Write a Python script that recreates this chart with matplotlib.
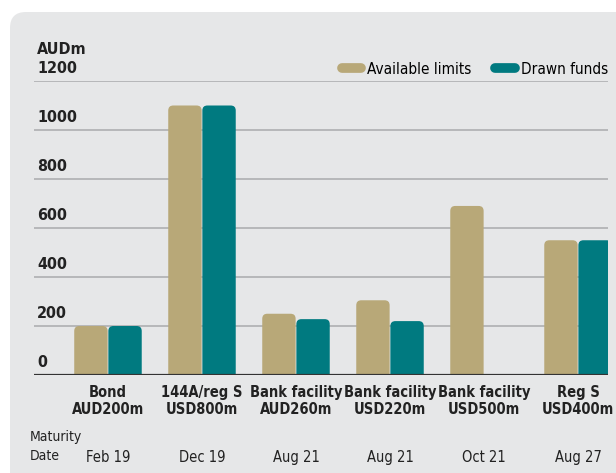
import numpy as np
import matplotlib
matplotlib.use('Agg')
import matplotlib.pyplot as plt
from matplotlib.patches import FancyBboxPatch
from matplotlib.lines import Line2D
from matplotlib import font_manager

names = {f.name for f in font_manager.fontManager.ttflist}
narrow = 'Liberation Sans Narrow' if 'Liberation Sans Narrow' in names else 'DejaVu Sans'
plt.rcParams['font.family'] = [narrow, 'DejaVu Sans']
plt.rcParams['font.stretch'] = 'condensed'

categories = ['Bond\nAUD200m', '144A/reg S\nUSD800m', 'Bank facility\nAUD260m',
              'Bank facility\nUSD220m', 'Bank facility\nUSD500m', 'Reg S\nUSD400m']
maturity = ['Feb 19', 'Dec 19', 'Aug 21', 'Aug 21', 'Oct 21', 'Aug 27']
available = [200, 1100, 250, 305, 690, 550]
drawn = [200, 1100, 228, 220, 0, 550]
yticks = [0, 200, 400, 600, 800, 1000, 1200]

c_avail = '#b8a878'
c_drawn = '#007a80'
panel = '#e6e7e8'

W, H = 616, 473
fig = plt.figure(figsize=(W / 100, H / 100), dpi=100)
fig.patch.set_facecolor('white')

# light grey panel with rounded top-left corner (pixel coords)
fig.patches.append(FancyBboxPatch((10, -30), 700, H - 12 + 30,
                                  boxstyle='round,pad=0,rounding_size=16',
                                  transform=None, facecolor=panel, edgecolor='none',
                                  zorder=-10))

# axes placement in pixels
left, right, bottom, top = 34, 608, 375, 81
ax = fig.add_axes([left / W, 1 - bottom / H, (right - left) / W, (bottom - top) / H])
ax.set_facecolor('none')
ax.set_zorder(5)

x = np.arange(len(categories))
xlim = (-0.787, 5.319)
ax.set_xlim(*xlim)
ax.set_ylim(0, 1200)

px_x = (right - left) / (xlim[1] - xlim[0])
px_y = (bottom - top) / 1200
rad = 5
r_x = rad / px_x
aspect = (rad / px_y) / r_x

w = 0.355
for xi, a, d in zip(x, available, drawn):
    for xc, val, col in [(xi - w / 2 - 0.004, a, c_avail), (xi + w / 2 + 0.004, d, c_drawn)]:
        if val <= 0:
            continue
        ax.add_patch(FancyBboxPatch((xc - w / 2, -40), w, val + 40,
                                    boxstyle=f'round,pad=0,rounding_size={r_x}',
                                    mutation_aspect=aspect, facecolor=col,
                                    edgecolor='none', zorder=3))

for s in ax.spines.values():
    s.set_visible(False)
ax.set_xticks([])
ax.set_yticks([])

for yv in yticks[1:]:
    ax.axhline(yv, color='#b3b4b6', lw=1.3, zorder=1)
ax.axhline(0, color='#333333', lw=1.6, zorder=4)

for yv in yticks:
    ax.annotate(str(yv), xy=(3 / (right - left), yv), xycoords=('axes fraction', 'data'),
                xytext=(0, 3.5), textcoords='offset points', ha='left', va='bottom',
                fontsize=11.5, fontweight='bold', color='#222222')
ax.annotate('AUDm', xy=(3 / (right - left), 1200), xycoords=('axes fraction', 'data'),
            xytext=(0, 17), textcoords='offset points', ha='left', va='bottom',
            fontsize=11.5, fontweight='bold', color='#222222')

for xi, lab, mat in zip(x, categories, maturity):
    ax.text(xi, -40, lab, ha='center', va='top', fontsize=10.5, fontweight='bold',
            color='#222222', linespacing=1.15)
    ax.text(xi, -335, mat, ha='center', va='center', fontsize=10.5, color='#222222')

ax.text(-0.787 - 4 / px_x, -290, 'Maturity\nDate', ha='left', va='center', fontsize=10,
        color='#222222', linespacing=1.45)

handles = [Line2D([], [], color=c_avail, lw=7, solid_capstyle='round'),
           Line2D([], [], color=c_drawn, lw=7, solid_capstyle='round')]
ax.legend(handles, ['Available limits', 'Drawn funds'], loc='lower right',
          bbox_to_anchor=(1.0, 1.015), ncol=2, frameon=False, fontsize=11,
          handlelength=1.3, handletextpad=0.4, columnspacing=1.5, borderaxespad=0.0,
          borderpad=0.0)

fig.savefig('out.png', dpi=100)
